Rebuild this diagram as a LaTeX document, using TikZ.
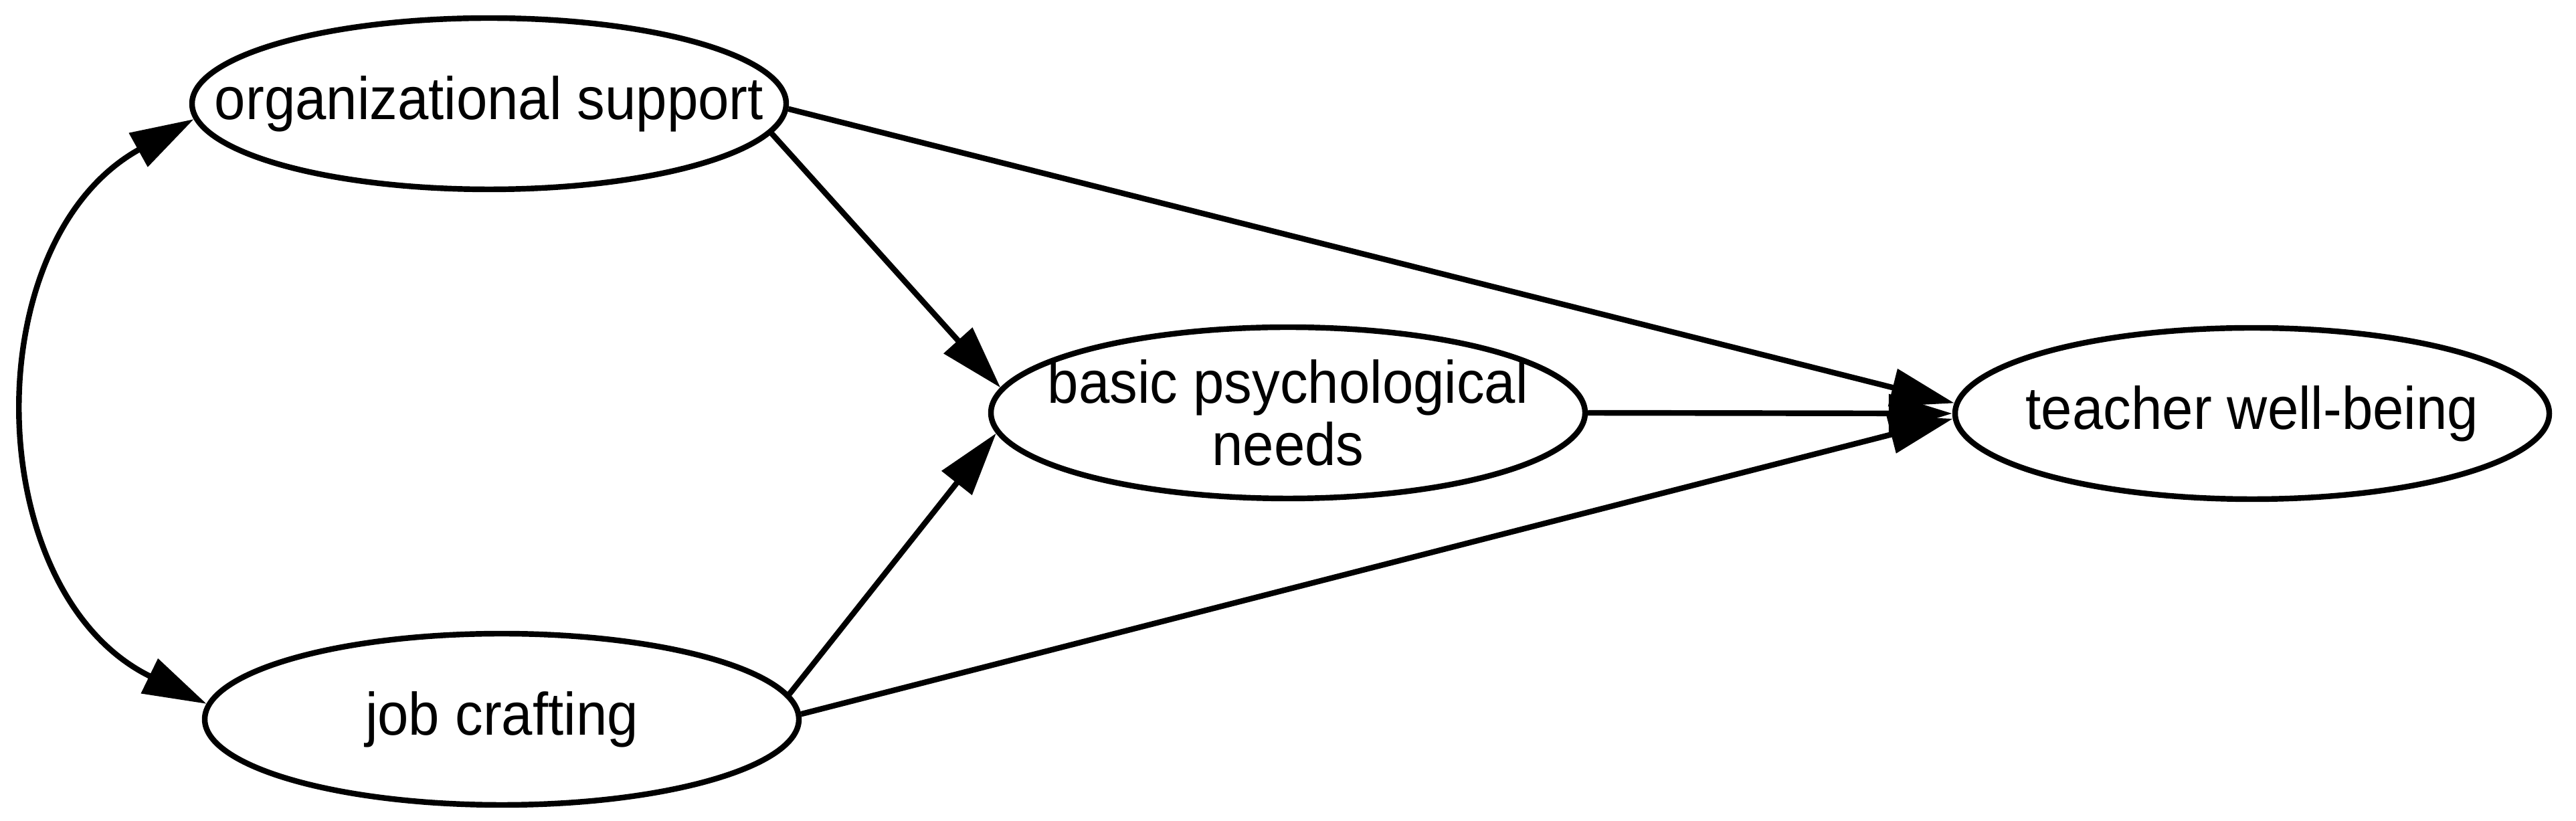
\documentclass[tikz,border=0pt]{standalone}
\usepackage{fontspec}
\setmainfont[FakeStretch=0.93]{Liberation Sans}
\usetikzlibrary{shapes.geometric,arrows.meta}

\tikzset{
  construct/.style={ellipse, draw, line width=2.4pt, minimum width=8.88cm,
    minimum height=2.56cm, inner sep=-1cm, align=center,
    font=\fontsize{25.5}{26.5}\selectfont},
  effect/.style={->, line width=2.4pt}
}

\begin{document}
\begin{tikzpicture}[>={Triangle[length=0.95cm,width=0.56cm]}]
\useasboundingbox (0,0) rectangle (38.5,12.27);

\node [construct] (org) at (7.31,10.72) {organizational support};
\node [construct] (job) at (7.50,1.52) {job crafting};
\node [construct] (bpn) at (19.25,6.10) {basic psychological\\needs};
\node [construct] (twb) at (33.66,6.09) {teacher well-being};

% covariance
\draw [<->, line width=2.4pt] (org.183) to [out=209, in=154, looseness=1.1] (job.177);

\draw [effect] (org.354) -- (bpn.175);
\draw [effect] (job.5) -- (bpn.184);

\draw [effect] (org.359) -- (twb.178);
\draw [effect] (bpn.east) -- (twb.west);
\draw [effect] (job.1) -- (twb.181);
\end{tikzpicture}
\end{document}
